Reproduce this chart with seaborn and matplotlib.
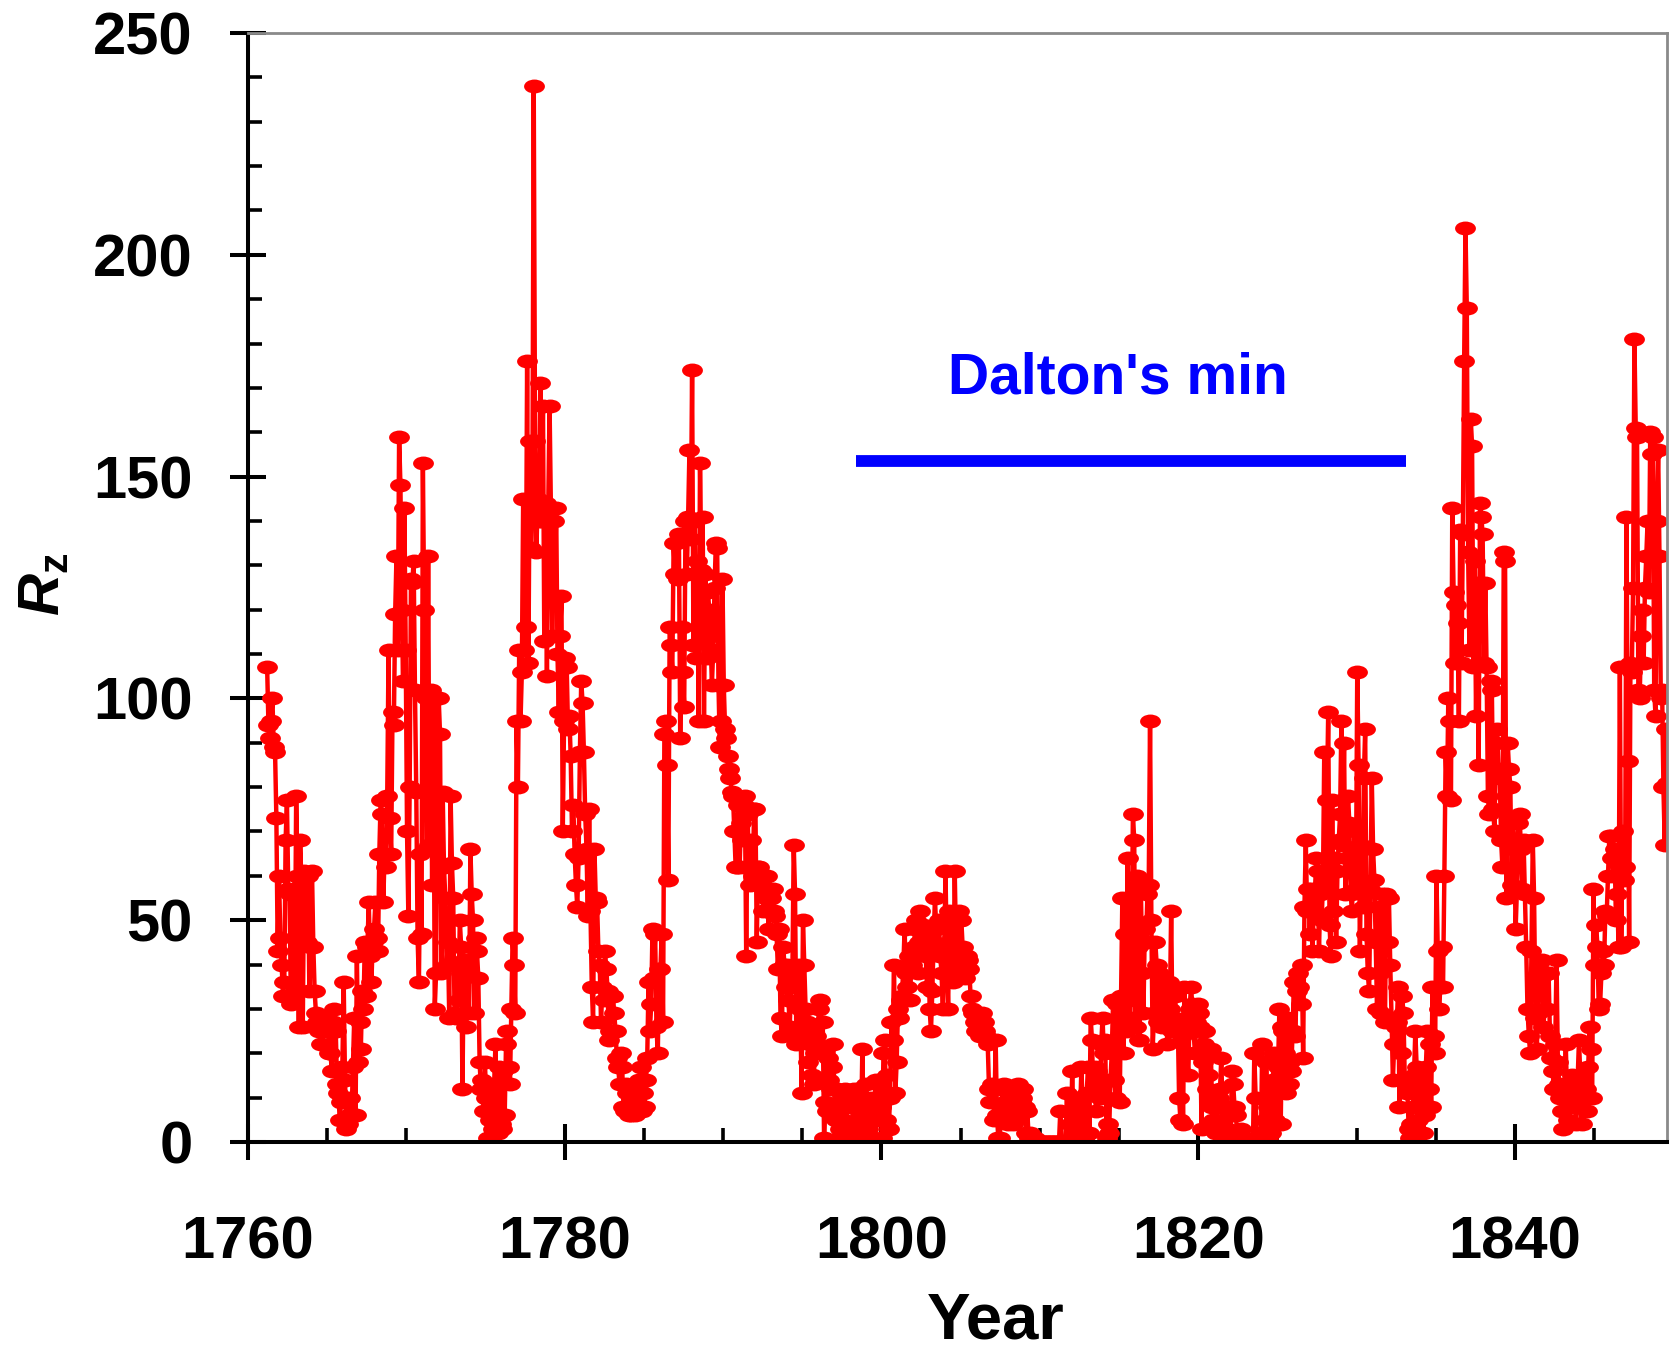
import numpy as np
import pandas as pd
import matplotlib
matplotlib.use("Agg")
import matplotlib.pyplot as plt
from matplotlib.path import Path
from matplotlib.transforms import Affine2D
from matplotlib.ticker import MultipleLocator
import seaborn as sns

# Monthly sunspot numbers, grouped by decade (first value = first month listed)
start_1760s = (1761, 3)
rz_1760s = [
    107, 94, 91, 95, 100, 89, 88, 73, 43, 60,
    46, 40, 33, 36, 68, 77, 57, 56, 31, 33, 56, 35,
    78, 60, 26, 68, 58, 26, 61, 60, 45, 60, 34, 44,
    61, 44, 34, 29, 27, 25, 28, 22, 27, 25, 28, 26,
    26, 20, 20, 16, 27, 30, 25, 13, 11, 5, 9, 17,
    36, 14, 3, 4, 6, 10, 6, 17, 28, 6, 42, 18,
    27, 21, 34, 30, 45, 33, 44, 54, 42, 36, 45, 48,
    54, 46, 43, 65, 77, 74, 54, 65, 62, 78, 111, 73,
    65, 97, 94, 119, 132, 111, 159, 148, 120, 104, 143, 111,
]
start_1770s = (1770, 1)
rz_1770s = [
    70, 51, 80, 127, 126, 131, 102, 79, 46, 36, 65, 47,
    153, 120, 100, 66, 132, 67, 102, 58, 100, 30, 38, 92,
    100, 92, 38, 79, 62, 55, 40, 45, 28, 78, 63, 55,
    29, 28, 40, 32, 50, 44, 12, 41, 29, 26, 41, 29,
    66, 56, 50, 29, 46, 43, 37, 18, 12, 14, 7, 18,
    10, 1, 7, 5, 11, 3, 13, 22, 5, 2, 17, 4,
    3, 16, 6, 22, 25, 17, 13, 30, 46, 40, 29, 95,
    80, 111, 95, 106, 145, 111, 116, 176, 108, 158, 134, 145,
    238, 158, 133, 145, 140, 171, 140, 166, 113, 144, 105, 143,
    166, 143, 114, 140, 123, 143, 110, 97, 114, 123, 70, 95,
]
start_1780s = (1780, 1)
rz_1780s = [
    109, 107, 93, 96, 87, 70, 76, 65, 58, 53, 64, 88,
    104, 99, 88, 74, 66, 51, 75, 52, 35, 27, 66, 55,
    54, 43, 40, 27, 35, 32, 43, 39, 34, 23, 25, 33,
    33, 29, 25, 19, 17, 13, 20, 17, 8, 7, 13, 11,
    6, 8, 6, 7, 9, 6, 7, 12, 14, 17, 7, 11,
    8, 14, 19, 36, 25, 31, 48, 37, 47, 26, 20, 39,
    39, 47, 27, 92, 95, 85, 59, 116, 112, 106, 135, 128,
    135, 127, 137, 91, 116, 106, 98, 140, 128, 141, 156, 136,
    174, 112, 140, 109, 131, 95, 153, 129, 141, 95, 128, 109,
    124, 120, 114, 103, 111, 125, 135, 134, 103, 89, 95, 127,
]
start_1790s = (1790, 1)
rz_1790s = [
    103, 93, 91, 87, 84, 82, 79, 78, 70, 62, 62, 76,
    62, 72, 68, 76, 78, 42, 74, 62, 58, 68, 60, 75,
    75, 45, 62, 62, 60, 58, 52, 57, 55, 60, 48, 55,
    55, 57, 52, 51, 47, 39, 48, 28, 24, 44, 40, 35,
    40, 32, 26, 35, 38, 67, 56, 22, 24, 40, 30, 11,
    50, 40, 30, 27, 18, 22, 25, 15, 13, 20, 24, 22,
    30, 32, 20, 27, 1, 9, 7, 19, 14, 12, 17, 22,
    7, 5, 12, 1, 3, 9, 5, 10, 12, 8, 3, 1,
    0, 0, 3, 12, 1, 4, 12, 6, 2, 21, 1, 8,
    13, 3, 6, 10, 0, 1, 8, 14, 5, 10, 14, 8,
]
start_1800s = (1800, 1)
rz_1800s = [
    1, 20, 23, 5, 15, 3, 10, 27, 23, 40, 11, 18,
    30, 28, 32, 33, 39, 48, 38, 35, 42, 32, 39, 40,
    44, 48, 50, 38, 45, 52, 45, 49, 46, 42, 35, 48,
    30, 25, 34, 45, 55, 48, 44, 50, 42, 38, 30, 42,
    61, 42, 30, 52, 48, 46, 36, 61, 44, 40, 52, 50,
    50, 44, 38, 37, 42, 41, 39, 33, 30, 29, 27, 25,
    29, 27, 24, 25, 29, 27, 25, 24, 22, 12, 9, 13,
    12, 5, 23, 6, 1, 1, 5, 12, 13, 9, 7, 4,
    12, 9, 6, 4, 6, 5, 12, 13, 12, 9, 10, 12,
    8, 2, 7, 1, 2, 1, 0, 0, 1, 0, 0, 0,
]
start_1810s = (1810, 1)
rz_1810s = [
    0, 0, 0, 0, 0, 0, 0, 0, 0, 0, 0, 0,
    0, 0, 0, 7, 0, 0, 0, 0, 11, 0, 4, 0,
    16, 0, 0, 5, 10, 2, 6, 17, 7, 1, 0, 11,
    17, 2, 28, 23, 11, 17, 7, 16, 12, 10, 22, 28,
    20, 23, 1, 4, 2, 14, 20, 32, 14, 10, 31, 20,
    9, 33, 55, 20, 47, 25, 64, 32, 28, 40, 74, 68,
    26, 60, 44, 23, 59, 38, 29, 48, 45, 56, 58, 95,
    50, 21, 29, 45, 40, 27, 38, 33, 26, 30, 36, 35,
    22, 36, 30, 52, 25, 28, 33, 25, 27, 10, 5, 24,
    4, 35, 28, 20, 15, 30, 35, 31, 25, 20, 27, 31,
]
start_1820s = (1820, 1)
rz_1820s = [
    29, 26, 3, 18, 22, 25, 12, 15, 10, 21, 8, 5,
    4, 2, 8, 10, 12, 19, 5, 1, 0, 3, 8, 6,
    0, 16, 13, 8, 6, 2, 0, 0, 3, 0, 1, 0,
    0, 0, 0, 0, 0, 0, 20, 10, 0, 0, 2, 0,
    22, 0, 5, 18, 8, 0, 12, 2, 14, 20, 5, 12,
    17, 30, 4, 26, 25, 20, 11, 28, 13, 18, 16, 25,
    36, 24, 34, 38, 35, 31, 40, 19, 53, 68, 52, 57,
    47, 57, 43, 52, 57, 64, 61, 43, 56, 50, 58, 88,
    60, 77, 97, 49, 42, 77, 52, 64, 45, 61, 68, 74,
    95, 67, 90, 56, 64, 78, 72, 56, 52, 62, 70, 57,
]
start_1830s = (1830, 1)
rz_1830s = [
    106, 85, 43, 67, 53, 82, 93, 47, 38, 34, 57, 82,
    66, 59, 45, 30, 53, 38, 29, 56, 40, 27, 56, 45,
    55, 40, 28, 14, 22, 26, 27, 35, 8, 20, 33, 29,
    14, 13, 11, 3, 1, 4, 8, 15, 25, 17, 5, 2,
    10, 15, 2, 6, 17, 25, 12, 22, 8, 35, 24, 20,
    60, 43, 30, 35, 44, 35, 60, 88, 78, 100, 95, 77,
    143, 124, 108, 121, 117, 95, 138, 108, 137, 176, 206, 188,
    133, 111, 163, 157, 107, 131, 96, 126, 85, 144, 141, 137,
    108, 126, 107, 78, 74, 104, 102, 75, 70, 90, 93, 84,
    82, 68, 62, 133, 131, 55, 90, 84, 80, 58, 73, 66,
]
start_1840s = (1840, 1)
rz_1840s = [
    48, 57, 72, 74, 66, 57, 68, 56, 44, 30, 24, 20,
    43, 68, 55, 28, 21, 29, 39, 37, 41, 26, 30, 38,
    30, 38, 24, 19, 16, 12, 22, 41, 18, 13, 10, 7,
    3, 12, 22, 10, 5, 13, 9, 15, 12, 8, 4, 14,
    23, 15, 4, 10, 11, 12, 7, 17, 26, 21, 10, 57,
    40, 49, 44, 30, 31, 38, 43, 40, 52, 51, 60, 69,
    69, 64, 60, 66, 50, 56, 44, 107, 44, 70, 59, 62,
    141, 86, 45, 108, 106, 125, 181, 161, 159, 102, 100, 114,
    120, 108, 125, 132, 140, 124, 160, 155, 159, 102, 96, 140,
    156, 132, 100, 102, 80, 67, 93, 81,
]

# Dalton minimum marker bar
dalton_span = [1798.4, 1833.1]
dalton_level = 153.5
dalton_label = "Dalton's min"

x_ticks = [1760, 1780, 1800, 1820, 1840]
y_ticks = [0, 50, 100, 150, 200, 250]


def decade_frame(start, values):
    year, month = start
    idx = np.arange(len(values))
    t = year + (month - 1 + idx + 0.5) / 12.0
    return pd.DataFrame({"year": t, "Rz": values})


series = pd.concat(
    [decade_frame(s, v) for s, v in [
        (start_1760s, rz_1760s), (start_1770s, rz_1770s),
        (start_1780s, rz_1780s), (start_1790s, rz_1790s),
        (start_1800s, rz_1800s), (start_1810s, rz_1810s),
        (start_1820s, rz_1820s), (start_1830s, rz_1830s),
        (start_1840s, rz_1840s)]],
    ignore_index=True)

sns.set_theme(style="white")
plt.rcParams["font.family"] = ["Liberation Sans", "DejaVu Sans"]
plt.rcParams["text.color"] = "black"
plt.rcParams["axes.labelcolor"] = "black"
plt.rcParams["xtick.color"] = "black"
plt.rcParams["ytick.color"] = "black"
plt.rcParams["mathtext.fontset"] = "custom"
plt.rcParams["mathtext.rm"] = "Liberation Sans:bold"
plt.rcParams["mathtext.it"] = "Liberation Sans:italic:bold"

fig = plt.figure(figsize=(16.70, 13.54), dpi=100)
ax = fig.add_axes([248 / 1670, 1 - 1142 / 1354, (1667 - 248) / 1670, (1142 - 33) / 1354])

# oval markers, wider than tall
oval = Path.unit_circle().transformed(Affine2D().scale(1.5, 1.0))

sns.lineplot(data=series, x="year", y="Rz", ax=ax, color="#ff0000",
             linewidth=3.2, marker=oval, markersize=15, markeredgewidth=0,
             markerfacecolor="#ff0000", estimator=None, sort=False)

ax.plot(dalton_span, [dalton_level, dalton_level], color="#0000ff",
        linewidth=8.5, solid_capstyle="butt")
ax.text(np.mean([1797.3, 1832.6]), 168.7, dalton_label, color="#0000ff",
        fontsize=41, fontweight="bold", ha="center", va="baseline")

ax.set_xlim(1760, 1849.6)
ax.set_ylim(0, 250)
ax.set_xticks(x_ticks)
ax.set_yticks(y_ticks)
ax.xaxis.set_minor_locator(MultipleLocator(5))
ax.yaxis.set_minor_locator(MultipleLocator(10))

ax.tick_params(axis="both", which="major", direction="inout", length=26,
               width=2.9, color="black", labelcolor="black", labelsize=43,
               bottom=True, left=True)
ax.tick_params(axis="y", which="major", pad=27)
ax.tick_params(axis="x", which="major", pad=40)
ax.tick_params(axis="both", which="minor", direction="in", length=10,
               width=2.6, color="black", bottom=True, left=True)
for lab in ax.get_xticklabels() + ax.get_yticklabels():
    lab.set_fontweight("bold")

for side in ("left", "bottom"):
    ax.spines[side].set_color("black")
    ax.spines[side].set_linewidth(2.9)
for side in ("top", "right"):
    ax.spines[side].set_color("#8a8a8a")
    ax.spines[side].set_linewidth(2.0)

ax.set_xlabel("Year", fontsize=47, fontweight="bold", color="black")
ax.xaxis.set_label_coords(0.527, -0.1775)
ax.xaxis.label.set_va("baseline")
ax.set_ylabel(r"$R_{\mathrm{z}}$", fontsize=42, color="black")
ax.yaxis.set_label_coords(-0.144, 0.503)
ax.yaxis.label.set_va("center")

fig.savefig("out.png", dpi=100)
